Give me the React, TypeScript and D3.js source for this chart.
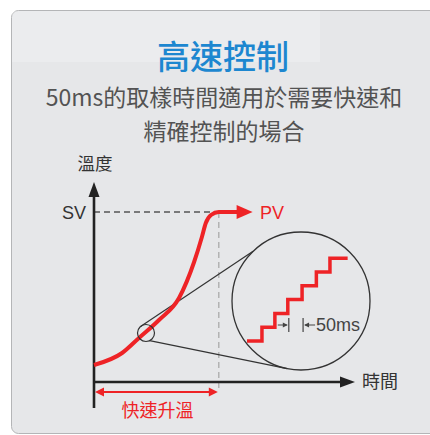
import React from "react";
import * as d3 from "d3";

// PV rise curve (time / temperature in 0..100 units)
const curveTime = [0, 10.8, 17.3, 25, 32.7, 38.5, 41.5, 43, 45, 48, 55];
const curveTemp = [8.5, 14.5, 22, 31, 42, 60, 72.5, 79.5, 83.5, 85, 85];
const SV = 85;
const riseEnd = 48;
const pvTip = 61;
const zoomAt = { t: 20, v: 24.5 };

// sampled stairs inside the magnifier
const stepTime = [0, 1.1, 2.05, 3, 4.05, 5.1, 6.1, 7.4];
const stepLevel = [0, 1, 2, 3, 4, 5, 6, 6];

const title = "高速控制";
const subtitle = ["50ms的取樣時間適用於需要快速和", "精確控制的場合"];
const yLabel = "溫度";
const xLabel = "時間";
const riseLabel = "快速升溫";
const sampleLabel = "50ms";

const W = 430;
const H = 435;
const RED = "#ee2326";
const DARK = "#222";
const CJK = "'Noto Sans CJK TC', 'Noto Sans', sans-serif";
const LAT = "'Liberation Sans', Arial, sans-serif";

const x = d3.scaleLinear().domain([0, 100]).range([94, 354]);
const y = d3.scaleLinear().domain([0, 100]).range([382, 182]);
const sx = d3.scaleLinear().domain([0, 1]).range([247, 260.6]);
const sy = d3.scaleLinear().domain([0, 1]).range([341, 327.2]);

const pts: [number, number][] = curveTime.map((t, i) => [t, curveTemp[i]]);
const curvePath = d3
  .line<[number, number]>()
  .x((d) => x(d[0]))
  .y((d) => y(d[1]))
  .curve(d3.curveMonotoneX)(pts);

const stairPath = d3
  .line<number>()
  .x((d) => sx(d))
  .y((_, i) => sy(stepLevel[i]))
  .curve(d3.curveStepAfter)(stepTime);

const small = { cx: x(zoomAt.t), cy: y(zoomAt.v), r: 8.5 };
const big = { cx: 301, cy: 301, r: 69 };
const onCircle = (c: { cx: number; cy: number; r: number }, deg: number) => {
  const a = (deg * Math.PI) / 180;
  return [c.cx + c.r * Math.cos(a), c.cy + c.r * Math.sin(a)];
};
const upA = onCircle(small, -130);
const upB = onCircle(big, -134);
const loA = onCircle(small, 65);
const loB = onCircle(big, 101.5);

const tri = (tx: number, ty: number, dir: "up" | "right" | "left", len: number, hw: number) => {
  if (dir === "up") return `M${tx},${ty}L${tx - hw},${ty + len}L${tx + hw},${ty + len}Z`;
  if (dir === "right") return `M${tx},${ty}L${tx - len},${ty - hw}L${tx - len},${ty + hw}Z`;
  return `M${tx},${ty}L${tx + len},${ty - hw}L${tx + len},${ty + hw}Z`;
};

export default function App() {
  const x0 = x(0);
  const y0 = y(0);
  const ySV = y(SV);
  const xRise = x(riseEnd);
  const riseY = 392;
  const markY = 325;
  const r1 = sx(stepTime[3]) + 1;
  const r2 = sx(stepTime[4]) + 1;

  return (
    <svg
      width={W}
      height={H}
      style={{ position: "absolute", left: 0, top: 0, background: "#fff" }}
    >
      <rect x={11.5} y={10.5} width={440} height={423} rx={7} fill="#e6e7e9" stroke="#b4b5b7" />
      <rect x={12} y={11} width={308} height={51} fill="#fff" opacity={0.22} />

      <text x={223} y={69} textAnchor="middle" fontFamily={CJK} fontSize={33} fontWeight={500} fill="#1d87d0">
        {title}
      </text>
      {subtitle.map((s, i) => (
        <text key={i} x={224} y={106 + i * 34} textAnchor="middle" fontFamily={CJK} fontSize={23} fill="#535353">
          {s}
        </text>
      ))}

      {/* guides */}
      <line x1={x0} x2={xRise} y1={ySV} y2={ySV} stroke="#555" strokeWidth={1.3} strokeDasharray="6,4" />
      <line x1={xRise} x2={xRise} y1={ySV} y2={riseY} stroke="#aaa" strokeWidth={1.3} strokeDasharray="6,4" />

      {/* axes */}
      <line x1={x0} x2={x0} y1={408} y2={196} stroke={DARK} strokeWidth={2.6} />
      <path d={tri(x0, 182, "up", 15, 5.5)} fill={DARK} />
      <line x1={x0} x2={342} y1={y0} y2={y0} stroke={DARK} strokeWidth={2.6} />
      <path d={tri(355, y0, "right", 15, 5.5)} fill={DARK} />

      <text x={x0 + 1} y={170} textAnchor="middle" fontFamily={CJK} fontSize={17.5} fill="#333">
        {yLabel}
      </text>
      <text x={86} y={ySV + 6.5} textAnchor="end" fontFamily={LAT} fontSize={18} fill="#333">
        SV
      </text>
      <text x={362} y={y0 + 6} fontFamily={CJK} fontSize={18} fill="#333">
        {xLabel}
      </text>

      {/* magnifier */}
      <line x1={upA[0]} y1={upA[1]} x2={upB[0]} y2={upB[1]} stroke="#333" strokeWidth={1.2} />
      <line x1={loA[0]} y1={loA[1]} x2={loB[0]} y2={loB[1]} stroke="#333" strokeWidth={1.2} />
      <circle cx={big.cx} cy={big.cy} r={big.r} fill="none" stroke="#333" strokeWidth={1.3} />

      {/* PV curve */}
      <path d={curvePath ?? ""} fill="none" stroke={RED} strokeWidth={4} strokeLinejoin="round" />
      <path d={tri(x(pvTip), ySV, "right", 16, 7)} fill={RED} />
      <text x={260} y={ySV + 6.5} fontFamily={LAT} fontSize={18} fill={RED}>
        PV
      </text>
      <circle cx={small.cx} cy={small.cy} r={small.r} fill="none" stroke="#333" strokeWidth={1.2} />

      <path d={stairPath ?? ""} fill="none" stroke={RED} strokeWidth={3.5} />

      {/* 50ms marker */}
      <line x1={r1 - 11} x2={r1 - 2} y1={markY} y2={markY} stroke="#444" strokeWidth={1} />
      <path d={tri(r1 - 1, markY, "right", 5, 2.5)} fill="#444" />
      <line x1={r1} x2={r1} y1={markY - 7} y2={markY + 7} stroke="#444" strokeWidth={1.2} />
      <line x1={r2} x2={r2} y1={markY - 7} y2={markY + 7} stroke="#444" strokeWidth={1.2} />
      <path d={tri(r2 + 1, markY, "left", 5, 2.5)} fill="#444" />
      <line x1={r2 + 2} x2={r2 + 12} y1={markY} y2={markY} stroke="#444" strokeWidth={1} />
      <text x={r2 + 13} y={markY + 6} fontFamily={LAT} fontSize={18} fill="#444">
        {sampleLabel}
      </text>

      {/* fast rise span */}
      <line x1={x0 + 6} x2={xRise - 6} y1={riseY} y2={riseY} stroke={RED} strokeWidth={1.8} />
      <path d={tri(x0 + 1, riseY, "left", 9, 4.5)} fill={RED} />
      <path d={tri(xRise - 1, riseY, "right", 9, 4.5)} fill={RED} />
      <text x={(x0 + xRise) / 2 + 1} y={417} textAnchor="middle" fontFamily={CJK} fontSize={18} fill={RED}>
        {riseLabel}
      </text>
    </svg>
  );
}
